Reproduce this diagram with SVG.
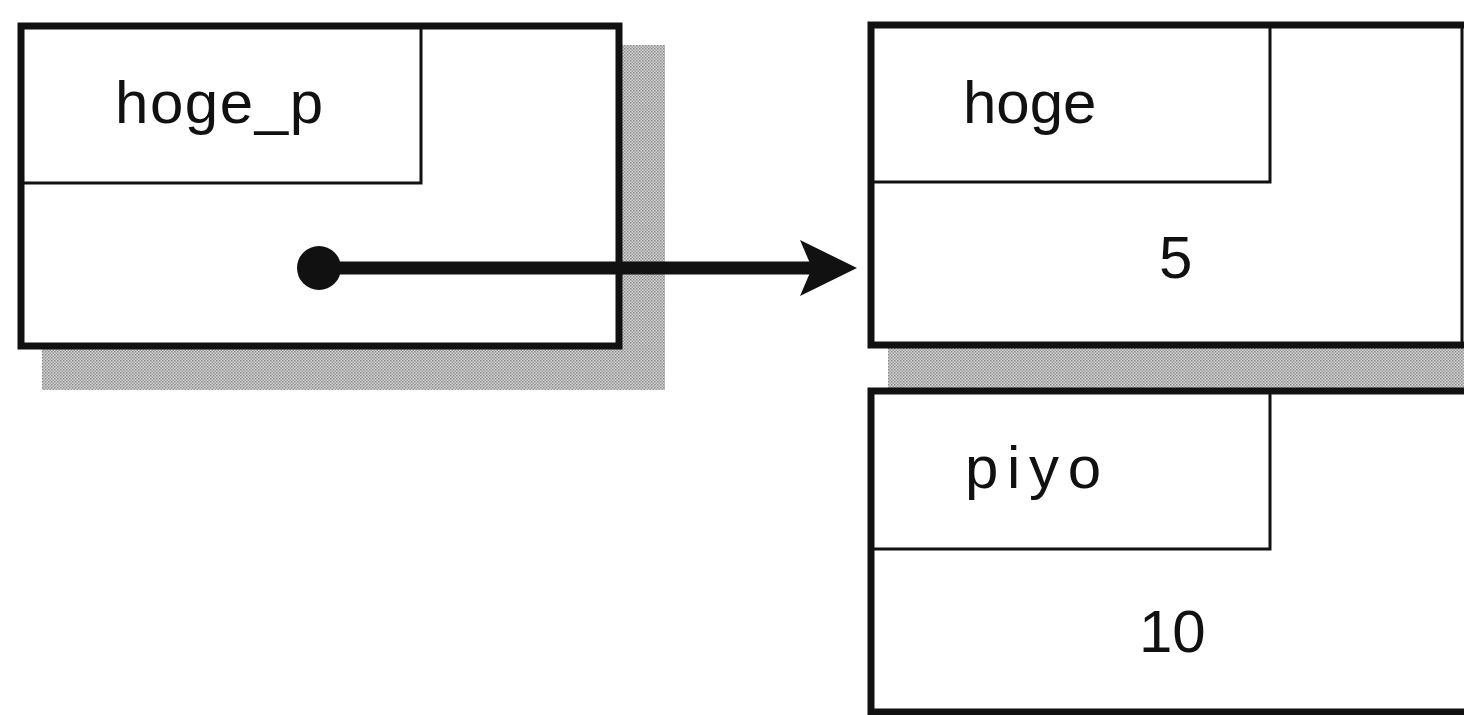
<svg xmlns="http://www.w3.org/2000/svg" width="1464" height="715" viewBox="0 0 1464 715">
  <style>
    .outer { fill: #fff; stroke: #111; stroke-width: 7; }
    .edge { fill: none; stroke: #111; stroke-width: 7; }
    .inner { fill: none; stroke: #111; stroke-width: 3; }
    .shadow { fill: url(#dots); }
    .lbl { font-family: "Liberation Sans", Arial, sans-serif; font-size: 60px; fill: #111; }
  </style>
  <defs>
    <pattern id="dots" width="3" height="3" patternUnits="userSpaceOnUse">
      <rect width="3" height="3" fill="#d4d4d4"/>
      <rect x="0" y="0" width="1.5" height="1.5" fill="#8a8a8a"/>
      <rect x="1.5" y="1.5" width="1.5" height="1.5" fill="#9a9a9a"/>
    </pattern>
    <marker id="head" markerUnits="userSpaceOnUse" markerWidth="60" markerHeight="60" refX="12" refY="30" orient="auto">
      <path d="M0,2 L57,30 L0,58 L12,30 Z" fill="#111"/>
    </marker>
  </defs>

  <g id="node-hoge_p">
    <rect class="shadow" x="42" y="45" width="623" height="345"/>
    <rect class="outer" x="21" y="26" width="598" height="320"/>
    <path class="inner" d="M21,183 H421 V26"/>
    <text class="lbl" x="115" y="123" textLength="208" lengthAdjust="spacing">hoge_p</text>
  </g>

  <g id="node-hoge">
    <rect class="shadow" x="888" y="345" width="576" height="46"/>
    <rect x="871" y="25" width="600" height="320" fill="#fff" stroke="none"/>
    <path class="edge" d="M1464,25 H871 V345 H1464"/>
    <line x1="1462" y1="25" x2="1462" y2="345" stroke="#111" stroke-width="3"/>
    <path class="inner" d="M871,182 H1270 V25"/>
    <text class="lbl" x="963" y="123">hoge</text>
    <text class="lbl" x="1159" y="278">5</text>
  </g>

  <g id="node-piyo">
    <rect x="871" y="391" width="600" height="321" fill="#fff" stroke="none"/>
    <path class="edge" d="M1464,391 H871 V712 H1464"/>
    <path class="inner" d="M871,549 H1270 V391"/>
    <text class="lbl" x="965" y="488" textLength="136" lengthAdjust="spacing">piyo</text>
    <text class="lbl" x="1139" y="652">10</text>
  </g>

  <g id="connectors">
    <circle cx="319" cy="268" r="22" fill="#111"/>
    <line x1="319" y1="268" x2="812" y2="268" stroke="#111" stroke-width="13" marker-end="url(#head)"/>
  </g>
</svg>
